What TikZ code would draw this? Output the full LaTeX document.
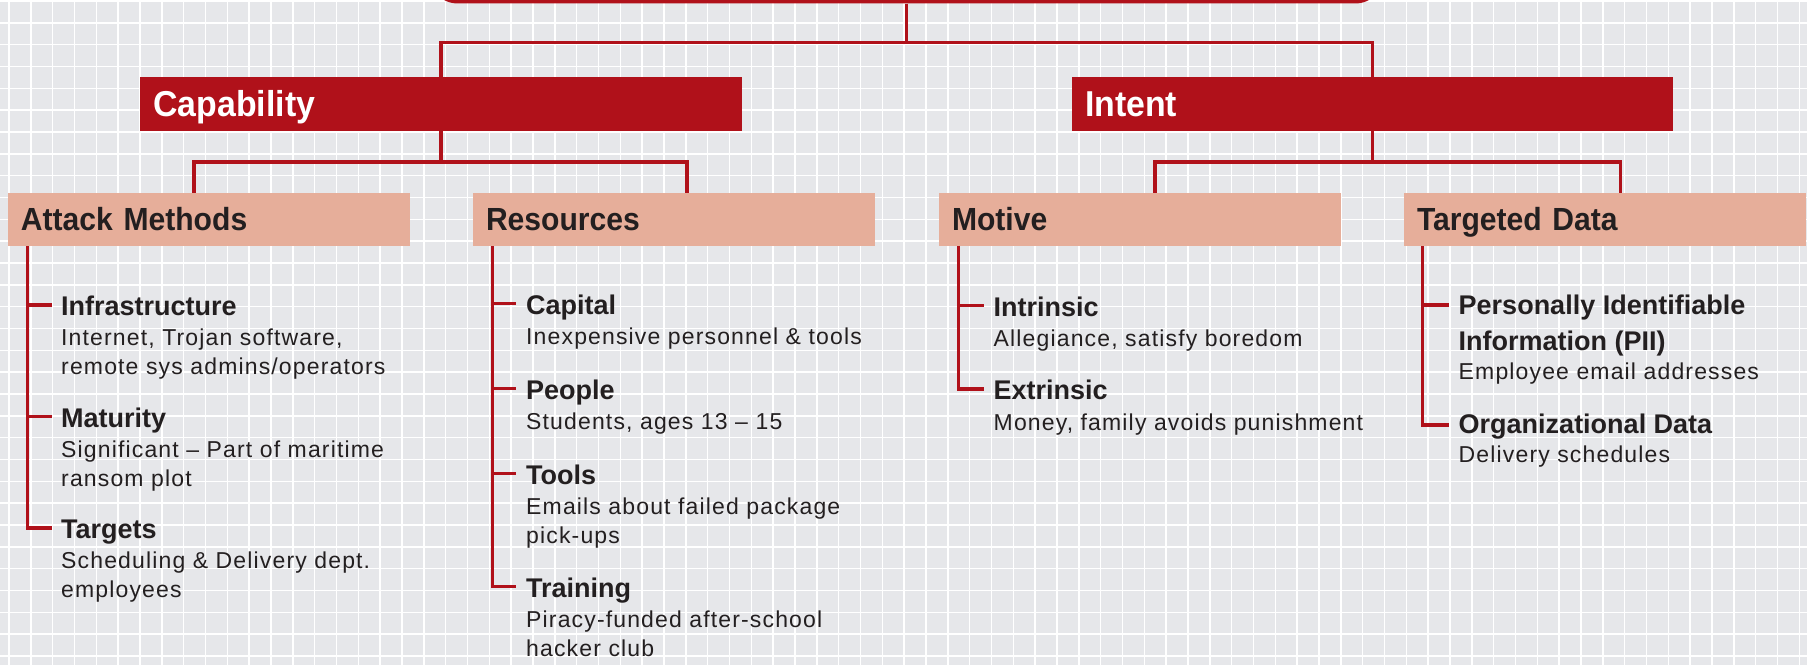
\documentclass[tikz,border=0pt]{standalone}
\usepackage{fontspec}
\setmainfont{Liberation Sans}
\newfontfamily\bodyfam{Liberation Sans}[LetterSpace=5]
\newfontfamily\hdrfam{Liberation Sans}[FakeStretch=0.94]
\definecolor{cred}{HTML}{B0111A}
\definecolor{csalmon}{HTML}{E6AE9A}
\definecolor{cgrid}{HTML}{E6E7EA}
\definecolor{cink}{HTML}{231F20}
\tikzset{
  conn/.style={draw=cred, line width=3.3bp},
  gridline/.style={draw=white, line width=1.6bp},
  topbox/.style={fill=cred, minimum width=957bp, minimum height=87bp, rounded corners=30bp, inner sep=0pt},
  bigbox/.style={fill=cred, text=white, minimum height=54bp, text width=575bp, inner xsep=13bp, inner ysep=0pt, align=left,
    font=\hdrfam\bfseries\fontsize{36bp}{40bp}\selectfont, text height=25.8bp, text depth=0pt},
  midbox/.style={fill=csalmon, text=cink, minimum height=53bp, text width=376bp, inner xsep=13bp, inner ysep=0pt, align=left,
    font=\hdrfam\bfseries\fontsize{32bp}{36bp}\selectfont, text height=22.9bp, text depth=0pt},
  ttl/.style={anchor=base west, inner sep=0pt, text=cink, font=\bfseries\fontsize{27bp}{30bp}\selectfont},
  bdy/.style={anchor=base west, inner sep=0pt, text=cink, font=\bodyfam\fontsize{23bp}{28bp}\selectfont},
}
\begin{document}
\begin{tikzpicture}[x=1bp,y=-1bp]
\useasboundingbox (0,0) rectangle (1807,665);
\clip (0,0) rectangle (1807,665);
% background grid
\fill[cgrid] (0,0) rectangle (1807,665);
\foreach \i in {0,...,82} \draw[gridline] ({9+21.833*\i},0) -- ++(0,665);
\foreach \j in {0,...,30} \draw[gridline] (0,{1+21.833*\j}) -- ++(1807,0);

% boxes
\node[topbox] (top) at (906.5,-40) {};
\node[bigbox] (cap) at (441,104) {Capability};
\node[bigbox] (int) at (1372.5,104) {Intent};
\node[midbox] (am) at (209,219.5) {Attack Methods};
\node[midbox] (res) at (674,219.5) {Resources};
\node[midbox] (mot) at (1140,219.5) {Motive};
\node[midbox] (td) at (1605,219.5) {Targeted Data};

% tree connectors
\coordinate (j0) at (906.5,42.3);
\coordinate (j1) at (441,162);
\coordinate (j2) at (1372.5,162);
\draw[conn] (top.south) -- (j0);
\draw[conn] (cap.north) |- (j0) -| (int.north);
\draw[conn] (cap.south) -- (j1);
\draw[conn] ([xshift=-15bp]am.north) |- (j1) -| ([xshift=13bp]res.north);
\draw[conn] (int.south) -- (j2);
\draw[conn] ([xshift=15bp]mot.north) |- (j2) -| ([xshift=15.5bp]td.north);

% ---------- Attack Methods ----------
\coordinate (amL) at ([xshift=19.5bp]am.south west);
\coordinate (am1) at (52,305);
\coordinate (am2) at (52,416.5);
\coordinate (am3) at (52,528);
\draw[conn] (amL) |- (am3);
\draw[conn] (amL |- am1) -- (am1);
\draw[conn] (amL |- am2) -- (am2);
\node[ttl] (am1t) at (61,315.5) {Infrastructure};
\node[bdy] (am1a) at (61,345.5) {Internet, Trojan software,};
\node[bdy] (am1b) at (61,374.5) {remote sys admins/operators};
\node[ttl] (am2t) at (61,427) {Maturity};
\node[bdy] (am2a) at (61,457) {Significant – Part of maritime};
\node[bdy] (am2b) at (61,486) {ransom plot};
\node[ttl] (am3t) at (61,538.5) {Targets};
\node[bdy] (am3a) at (61,568.5) {Scheduling \& Delivery dept.};
\node[bdy] (am3b) at (61,597.5) {employees};

% ---------- Resources ----------
\coordinate (resL) at ([xshift=19.5bp]res.south west);
\coordinate (r1) at (516,303.5);
\coordinate (r2) at (516,388.5);
\coordinate (r3) at (516,473.5);
\coordinate (r4) at (516,586.5);
\draw[conn] (resL) |- (r4);
\draw[conn] (resL |- r1) -- (r1);
\draw[conn] (resL |- r2) -- (r2);
\draw[conn] (resL |- r3) -- (r3);
\node[ttl] (r1t) at (526,314) {Capital};
\node[bdy] (r1a) at (526,344) {Inexpensive personnel \& tools};
\node[ttl] (r2t) at (526,399) {People};
\node[bdy] (r2a) at (526,429) {Students, ages 13 – 15};
\node[ttl] (r3t) at (526,484) {Tools};
\node[bdy] (r3a) at (526,514) {Emails about failed package};
\node[bdy] (r3b) at (526,543) {pick-ups};
\node[ttl] (r4t) at (526,597) {Training};
\node[bdy] (r4a) at (526,627) {Piracy-funded after-school};
\node[bdy] (r4b) at (526,656) {hacker club};

% ---------- Motive ----------
\coordinate (motL) at ([xshift=19.5bp]mot.south west);
\coordinate (m1) at (983.5,305.5);
\coordinate (m2) at (983.5,389);
\draw[conn] (motL) |- (m2);
\draw[conn] (motL |- m1) -- (m1);
\node[ttl] (m1t) at (993.5,316) {Intrinsic};
\node[bdy] (m1a) at (993.5,346) {Allegiance, satisfy boredom};
\node[ttl] (m2t) at (993.5,399.5) {Extrinsic};
\node[bdy] (m2a) at (993.5,430) {Money, family avoids punishment};

% ---------- Targeted Data ----------
\coordinate (tdL) at ([xshift=19bp]td.south west);
\coordinate (t1) at (1448.5,305);
\coordinate (t2) at (1448.5,425);
\draw[conn] (tdL) |- (t2);
\draw[conn] (tdL |- t1) -- (t1);
\node[ttl] (t1t) at (1458.5,314.5) {Personally Identifiable};
\node[ttl] (t1u) at (1458.5,350.7) {Information (PII)};
\node[bdy] (t1a) at (1458.5,379.5) {Employee email addresses};
\node[ttl] (t2t) at (1458.5,433.5) {Organizational Data};
\node[bdy] (t2a) at (1458.5,462) {Delivery schedules};
\end{tikzpicture}
\end{document}
